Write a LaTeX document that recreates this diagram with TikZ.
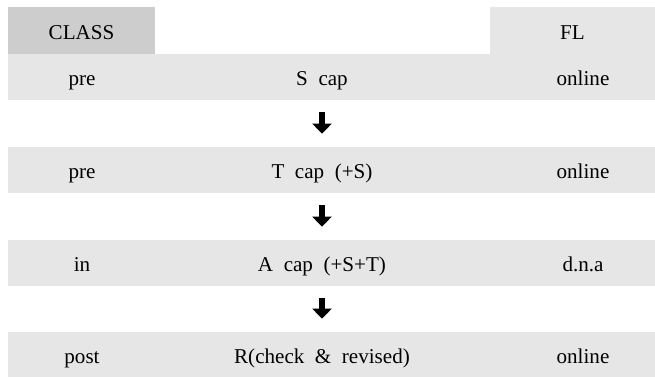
\documentclass[tikz,border=0pt]{standalone}
\usepackage{fontspec}
\setmainfont{Liberation Serif}
\usepackage{tikz}
\usetikzlibrary{arrows.meta,positioning}

\definecolor{bandgray}{HTML}{E6E6E6}
\definecolor{classgray}{HTML}{CDCDCD}

\begin{document}
\begin{tikzpicture}[x=1cm,y=1cm,font=\fontsize{12}{14}\selectfont,
  band/.style={fill=bandgray,minimum width=12.94cm,minimum height=.92cm,inner sep=0pt},
  head/.style={minimum height=.94cm,inner sep=0pt,text height=.36cm,text depth=0pt},
  cell/.style={inner sep=0pt,text height=.36cm,text depth=0pt},
  down/.style={line width=.12cm,-{Triangle[width=.38cm,length=.2cm]},shorten <=.24cm,shorten >=.26cm}]
\useasboundingbox (0,0) rectangle (13.1,7.54);
% header
\node[head,fill=classgray,minimum width=2.94cm] (class) at (1.63,6.93) {CLASS};
\node[head,fill=bandgray,minimum width=3.30cm] (fl) at (11.45,6.93) {FL};
% rows
\node[band] (r1) at (6.63,6.00) {};
\node[cell] (r1a) at (1.64,6.00) {pre};
\node[cell] (r1b) at (6.44,6.00) {S~~cap};
\node[cell] (r1c) at (11.66,6.00) {online};
\node[band] (r2) at (6.63,4.14) {};
\node[cell] (r2a) at (1.64,4.14) {pre};
\node[cell] (r2b) at (6.44,4.14) {T~~cap~~(+S)};
\node[cell] (r2c) at (11.66,4.14) {online};
\node[band] (r3) at (6.63,2.28) {};
\node[cell] (r3a) at (1.64,2.28) {in};
\node[cell] (r3b) at (6.44,2.28) {A~~cap~~(+S+T)};
\node[cell] (r3c) at (11.66,2.28) {d.n.a};
\node[band] (r4) at (6.63,0.44) {};
\node[cell] (r4a) at (1.64,0.44) {post};
\node[cell] (r4b) at (6.44,0.44) {R(check~~\&~~revised)};
\node[cell] (r4c) at (11.66,0.44) {online};
% arrows between rows
\draw[down] (r1.south -| r1b) -- (r2.north -| r2b);
\draw[down] (r2.south -| r2b) -- (r3.north -| r3b);
\draw[down] (r3.south -| r3b) -- (r4.north -| r4b);
\end{tikzpicture}
\end{document}
